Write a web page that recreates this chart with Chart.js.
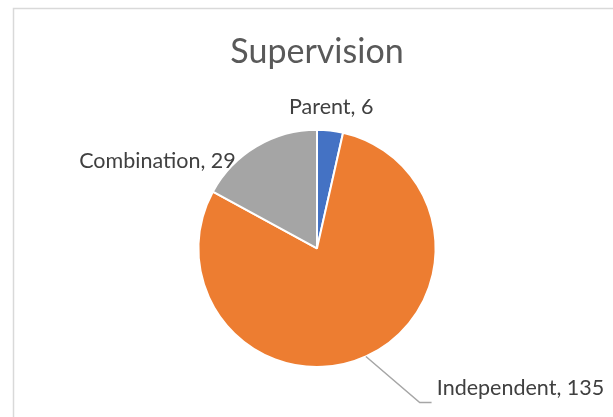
<!DOCTYPE html>
<html lang="en">
<head>
<meta charset="UTF-8">
<title>Supervision</title>
<style>
    html, body { margin: 0; padding: 0; background: #fff; }
    #pie { display: block; }
</style>
</head>
<body>
<canvas id="pie" width="613" height="417"></canvas>

<script src="https://cdn.jsdelivr.net/npm/chart.js"></script>
<script>
const categories = ['Parent', 'Independent', 'Combination'];
const counts = [6, 135, 29];
const sliceColors = ['#4472C4', '#ED7D31', '#A5A5A5'];

// where each data label sits, in units of the pie radius from its centre
// [dx, dy, textAlign, leader line?]
const labelSpots = [
    [0.12, -1.19, 'center', false],
    [-1.345, -0.74, 'center', false],
    [1.01, 1.18, 'left', true]
];
const spotFor = { Parent: 0, Combination: 1, Independent: 2 };

const frame = {
    id: 'frame',
    beforeDraw(chart) {
        const ctx = chart.ctx;
        ctx.save();
        ctx.strokeStyle = '#d9d9d9';
        ctx.lineWidth = 1.5;
        ctx.strokeRect(13.5, 8.5, chart.width + 20, chart.height + 20);
        ctx.restore();
    }
};

const dataLabels = {
    id: 'dataLabels',
    afterDraw(chart) {
        const ctx = chart.ctx;
        const arcs = chart.getDatasetMeta(0).data;
        ctx.save();
        ctx.font = '21.5px Lato';
        ctx.fillStyle = '#404040';
        ctx.textBaseline = 'middle';
        arcs.forEach((arc, i) => {
            const name = categories[i];
            const spot = labelSpots[spotFor[name]];
            const r = arc.outerRadius;
            const tx = arc.x + spot[0] * r;
            const ty = arc.y + spot[1] * r;
            if (spot[3]) {
                const mid = (arc.startAngle + arc.endAngle) / 2;
                const ex = arc.x + Math.cos(mid) * r;
                const ey = arc.y + Math.sin(mid) * r;
                const kx = arc.x + 0.866 * r;
                const ky = arc.y + 1.30 * r;
                ctx.strokeStyle = '#a6a6a6';
                ctx.lineWidth = 1.5;
                ctx.beginPath();
                ctx.moveTo(ex, ey);
                ctx.lineTo(kx, ky);
                ctx.lineTo(kx + 0.1 * r, ky);
                ctx.stroke();
            }
            ctx.textAlign = spot[2];
            ctx.fillText(name + ', ' + counts[i], tx, ty);
        });
        ctx.restore();
    }
};

new Chart(document.getElementById('pie'), {
    type: 'pie',
    data: {
        labels: categories,
        datasets: [{
            data: counts,
            backgroundColor: sliceColors,
            borderColor: '#ffffff',
            borderWidth: 2
        }]
    },
    options: {
        responsive: false,
        animation: false,
        layout: { padding: { top: 0, bottom: 49, left: 60, right: 39 } },
        plugins: {
            legend: { display: false },
            tooltip: { enabled: false },
            title: {
                display: true,
                text: 'Supervision',
                color: '#595959',
                font: { family: 'Lato', size: 34, weight: 'normal', lineHeight: 1.2 },
                padding: { top: 32, bottom: 56 }
            }
        }
    },
    plugins: [frame, dataLabels]
});
</script>
</body>
</html>
